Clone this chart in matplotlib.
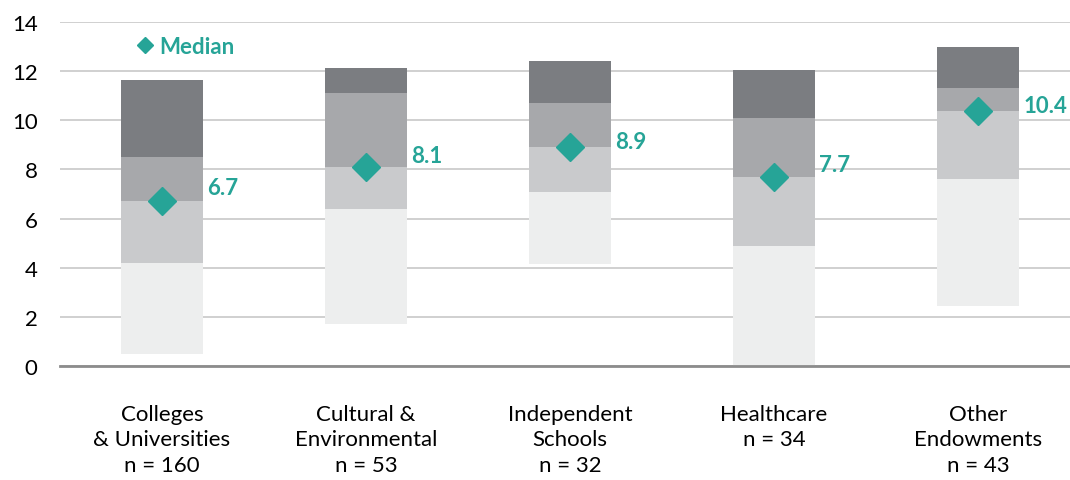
import matplotlib.pyplot as plt
from matplotlib.lines import Line2D

# percentile ranges per endowment type (5th, 25th, median, 75th, 95th)
categories = ['Colleges\n& Universities\nn = 160', 'Cultural &\nEnvironmental\nn = 53',
              'Independent\nSchools\nn = 32', 'Healthcare\nn = 34', 'Other\nEndowments\nn = 43']
p05 = [0.5, 1.7, 4.15, 0.0, 2.45]
p25 = [4.2, 6.4, 7.1, 4.9, 7.6]
median = [6.7, 8.1, 8.9, 7.7, 10.4]
p75 = [8.5, 11.1, 10.7, 10.1, 11.3]
p95 = [11.65, 12.15, 12.4, 12.05, 13.0]
yticks = [0, 2, 4, 6, 8, 10, 12, 14]

teal = '#26A497'
colors = ['#EDEEEE', '#C9CACC', '#A7A8AB', '#7B7D81']
label_dy = [0.55, 0.45, 0.25, 0.5, 0.2]

plt.rcParams['font.family'] = ['Lato', 'DejaVu Sans']

fig = plt.figure(figsize=(10.7, 4.81), dpi=100)
ax = fig.add_axes([0.056, 0.237, 0.944, 0.715])

x = range(len(categories))
width = 0.4
levels = [p05, p25, median, p75, p95]
for k in range(4):
    lo = levels[k]
    hi = levels[k + 1]
    ax.bar(x, [h - l for h, l in zip(hi, lo)], width, bottom=lo, color=colors[k], zorder=2)

ax.plot(x, median, linestyle='none', marker='D', markersize=14, color=teal, zorder=3)

for i, m in enumerate(median):
    ax.annotate(f'{m:.1f}', (i + width / 2, m + label_dy[i]), xytext=(3, 0), textcoords='offset points',
                ha='left', va='center', color=teal, fontsize=16, fontweight='bold')

ax.set_ylim(0, 14)
ax.set_xlim(-0.5, 4.45)
ax.set_yticks(yticks)
ax.set_xticks(list(x))
ax.set_xticklabels(categories, fontsize=16, linespacing=1.35)
ax.tick_params(axis='y', labelsize=16, length=0, pad=16)
ax.tick_params(axis='x', length=0, pad=27)
ax.grid(axis='y', color='#C8C8C8', linewidth=1.2, zorder=0)
ax.set_axisbelow(True)
for s in ['top', 'right', 'left']:
    ax.spines[s].set_visible(False)
ax.spines['bottom'].set_color('#8C8C8C')
ax.spines['bottom'].set_linewidth(2)
ax.spines['bottom'].set_zorder(4)

handle = Line2D([], [], linestyle='none', marker='D', markersize=8, color=teal)
leg = ax.legend([handle], ['Median'], loc='center left', bbox_to_anchor=(0.058, 0.93),
                frameon=False, handlelength=0.6, handletextpad=0.35,
                prop={'size': 16, 'weight': 'bold'}, labelcolor=teal)

fig.savefig('out.png', dpi=100)
